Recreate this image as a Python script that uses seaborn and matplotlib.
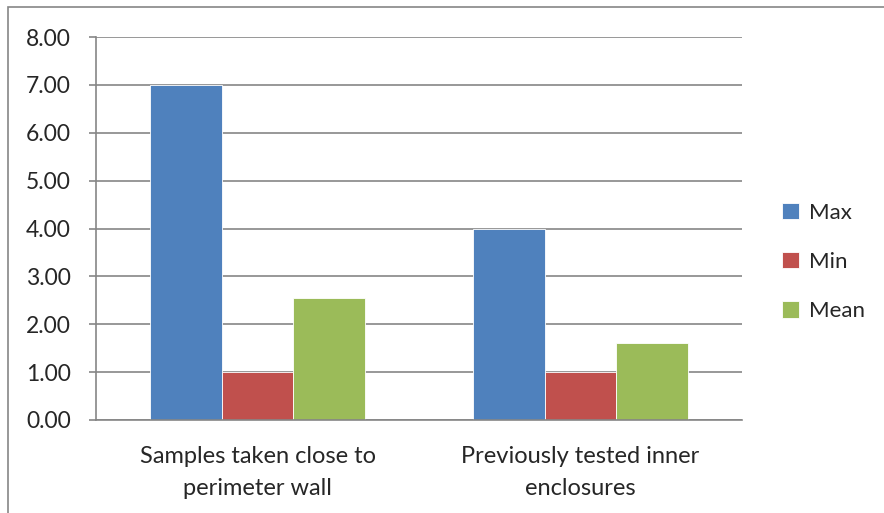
import pandas as pd
import matplotlib
matplotlib.use("Agg")
import matplotlib.pyplot as plt
import seaborn as sns
from matplotlib.patches import Rectangle

# Dados
categorias = ["Samples taken close to\nperimeter wall", "Previously tested inner\nenclosures"]
series = ["Max", "Min", "Mean"]
max_vals = [7.0, 4.0]
min_vals = [1.0, 1.0]
mean_vals = [2.55, 1.6]
y_ticks = [0, 1, 2, 3, 4, 5, 6, 7, 8]

df = pd.DataFrame({
    "Categoria": categorias * 3,
    "Serie": ["Max"] * 2 + ["Min"] * 2 + ["Mean"] * 2,
    "Valor": max_vals + min_vals + mean_vals,
})

sns.set_style("white")
plt.rcParams["font.family"] = ["Lato", "DejaVu Sans"]

cores = ["#4F81BD", "#C0504D", "#9BBB59"]
cinza = "#868686"

fig = plt.figure(figsize=(8.84, 5.13), dpi=100)
ax = fig.add_axes([96 / 884, 1 - 420 / 513, (742 - 96) / 884, (420 - 37) / 513])

sns.barplot(data=df, x="Categoria", y="Valor", hue="Serie", hue_order=series,
            palette=cores, width=0.667, saturation=1, ax=ax,
            edgecolor="white", linewidth=0.6, legend=True)

ax.set_xlim(-0.5, 1.5)
ax.set_ylim(0, 8)
ax.set_yticks(y_ticks)
ax.set_yticklabels([f"{v:.2f}" for v in y_ticks], fontsize=16.5)
ax.set_xlabel("")
ax.set_ylabel("")
ax.tick_params(axis="x", which="major", length=0, labelsize=17, pad=19)
ax.set_xticks([-0.5, 0.5, 1.5], minor=True)
ax.tick_params(axis="x", which="minor", length=6, color=cinza, width=1.2, direction="out")
ax.tick_params(axis="y", length=5, color=cinza, width=1.2, direction="out", left=True, pad=13)
for lbl in ax.get_xticklabels():
    lbl.set_linespacing(1.6)

ax.yaxis.grid(True, color=cinza, linewidth=1.2)
ax.set_axisbelow(True)
for s in ["top", "right"]:
    ax.spines[s].set_visible(False)
for s in ["left", "bottom"]:
    ax.spines[s].set_color(cinza)
    ax.spines[s].set_linewidth(1.2)

leg = ax.legend(loc="center left", bbox_to_anchor=(762 / 884, 1 - 262 / 513),
                bbox_transform=fig.transFigure, frameon=False, fontsize=16,
                handlelength=0.75, handleheight=0.75, handletextpad=0.45, labelspacing=1.32)

# borda do gráfico
fig.patches.append(Rectangle((8 / 884, -0.1), 1.2, 1 - 7 / 513 + 0.1, transform=fig.transFigure,
                             fill=False, edgecolor=cinza, linewidth=1.2))

fig.savefig("out.png", dpi=100)
